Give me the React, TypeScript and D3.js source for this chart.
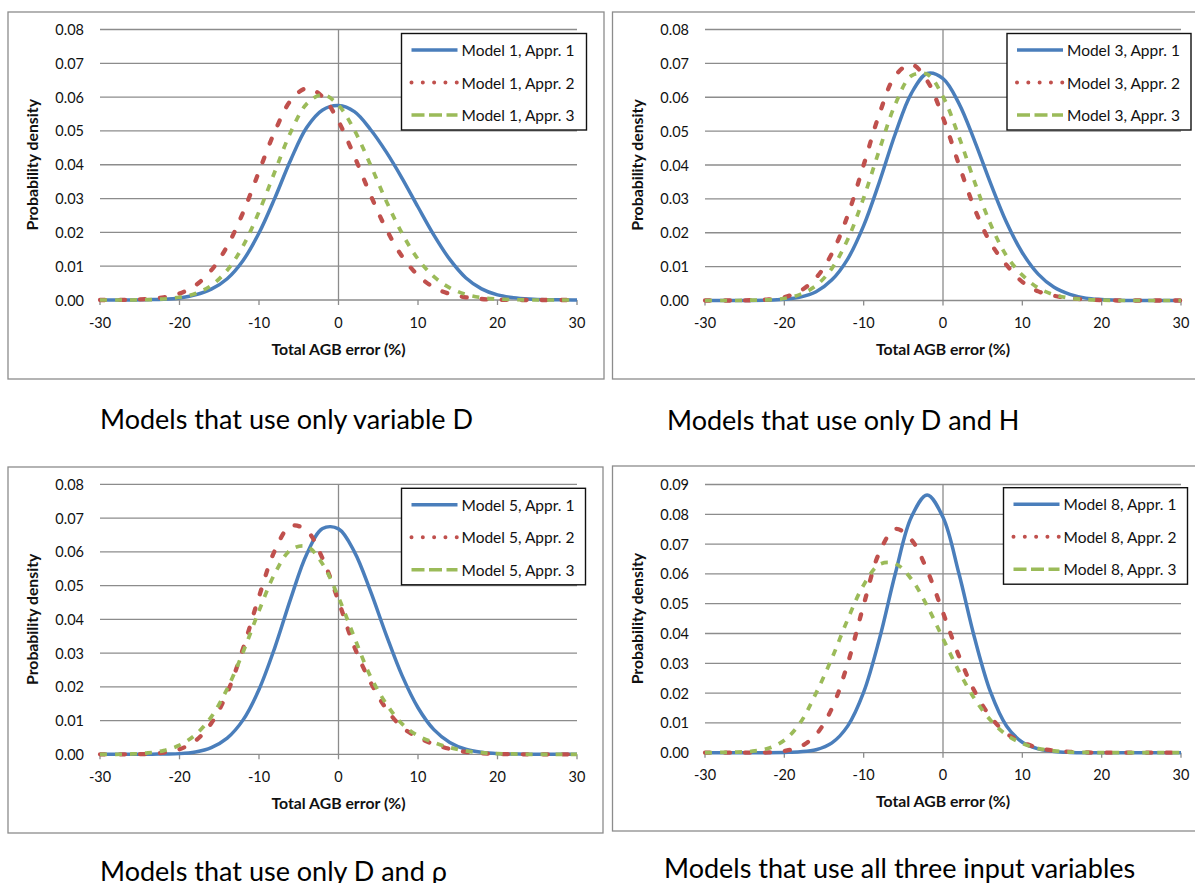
import React from 'react';
import * as d3 from 'd3';

// Total AGB error (%) at which each density is tabulated
const errorPct = [-30, -28, -26, -24, -22, -20, -18, -16, -14, -12, -10, -8, -6, -4, -2, 0, 2, 4, 6, 8, 10, 12, 14, 16, 18, 20, 22, 24, 26, 28, 30];

const xTicks = [-30, -20, -10, 0, 10, 20, 30];
const yTicksTo008 = [0, 0.01, 0.02, 0.03, 0.04, 0.05, 0.06, 0.07, 0.08];
const yTicksTo009 = [0, 0.01, 0.02, 0.03, 0.04, 0.05, 0.06, 0.07, 0.08, 0.09];

const modelNames = ['Model 1', 'Model 3', 'Model 5', 'Model 8'];
const approachNames = ['Appr. 1', 'Appr. 2', 'Appr. 3'];
const captions = [
  'Models that use only variable D',
  'Models that use only D and H',
  'Models that use only D and \u03c1',
  'Models that use all three input variables',
];

// Model 1 (diameter only)
const model1Appr1 = [0, 0, 0, 0.0001, 0.0002, 0.0006, 0.0015, 0.0032, 0.0063, 0.0117, 0.0198, 0.0302, 0.0415, 0.051, 0.0562, 0.0575, 0.0557, 0.0505, 0.0438, 0.036, 0.0275, 0.0192, 0.012, 0.0066, 0.0033, 0.0015, 0.0007, 0.0003, 0.0001, 0.0001, 0];
const model1Appr2 = [0, 0, 0.0001, 0.0003, 0.0008, 0.0019, 0.0043, 0.0088, 0.0159, 0.0259, 0.038, 0.0499, 0.059, 0.0626, 0.0601, 0.0528, 0.0425, 0.0312, 0.021, 0.0129, 0.0073, 0.0037, 0.0018, 0.0008, 0.0003, 0.0001, 0, 0, 0, 0, 0];
const model1Appr3 = [0, 0, 0, 0.0001, 0.0003, 0.0008, 0.0019, 0.0043, 0.0088, 0.016, 0.0261, 0.038, 0.0497, 0.058, 0.0607, 0.0576, 0.0502, 0.0401, 0.0293, 0.0197, 0.0121, 0.0069, 0.0036, 0.0017, 0.0007, 0.0003, 0.0001, 0, 0, 0, 0];

// Model 3 (diameter and height)
const model3Appr1 = [0, 0, 0, 0, 0.0001, 0.0004, 0.001, 0.0026, 0.0061, 0.0123, 0.0221, 0.0351, 0.0493, 0.0611, 0.067, 0.0655, 0.0582, 0.047, 0.0346, 0.0231, 0.0141, 0.0078, 0.0039, 0.0018, 0.0007, 0.0003, 0.0001, 0, 0, 0, 0];
const model3Appr2 = [0, 0, 0, 0.0001, 0.0003, 0.001, 0.0028, 0.0067, 0.0139, 0.0252, 0.04, 0.0552, 0.0664, 0.0697, 0.0649, 0.054, 0.0402, 0.027, 0.017, 0.0105, 0.0055, 0.0027, 0.0014, 0.0007, 0.0003, 0.0001, 0, 0, 0, 0, 0];
const model3Appr3 = [0, 0, 0, 0.0001, 0.0002, 0.0006, 0.0018, 0.0044, 0.0095, 0.0181, 0.0303, 0.0446, 0.058, 0.0663, 0.0668, 0.0602, 0.0484, 0.0349, 0.0225, 0.0132, 0.0075, 0.0037, 0.0017, 0.0007, 0.0003, 0.0001, 0, 0, 0, 0, 0];

// Model 5 (diameter and wood density)
const model5Appr1 = [0, 0, 0, 0, 0.0001, 0.0002, 0.0007, 0.002, 0.0048, 0.0102, 0.0192, 0.0317, 0.0462, 0.0593, 0.0669, 0.0668, 0.06, 0.0485, 0.0354, 0.0233, 0.0138, 0.0073, 0.0035, 0.0015, 0.0006, 0.0002, 0.0001, 0, 0, 0, 0];
const model5Appr2 = [0, 0, 0, 0.0001, 0.0005, 0.0015, 0.004, 0.0092, 0.0182, 0.0314, 0.0467, 0.0604, 0.0677, 0.0663, 0.058, 0.0454, 0.0318, 0.0215, 0.0135, 0.008, 0.005, 0.003, 0.0016, 0.0007, 0.0003, 0.0001, 0, 0, 0, 0, 0];
const model5Appr3 = [0, 0, 0.0001, 0.0004, 0.0011, 0.0027, 0.0058, 0.0111, 0.0194, 0.0303, 0.0425, 0.0536, 0.0606, 0.0616, 0.0564, 0.0465, 0.0346, 0.0232, 0.015, 0.009, 0.0055, 0.0035, 0.002, 0.001, 0.0005, 0.0002, 0.0001, 0, 0, 0, 0];

// Model 8 (all three inputs)
const model8Appr1 = [0, 0, 0, 0, 0, 0.0001, 0.0003, 0.001, 0.0033, 0.009, 0.0203, 0.0383, 0.0602, 0.079, 0.0865, 0.079, 0.0602, 0.0383, 0.0203, 0.009, 0.0035, 0.0013, 0.0004, 0.0001, 0, 0, 0, 0, 0, 0, 0];
const model8Appr2 = [0, 0, 0, 0, 0.0001, 0.0006, 0.002, 0.0061, 0.0149, 0.03, 0.0496, 0.0673, 0.0751, 0.0715, 0.0612, 0.047, 0.0325, 0.0205, 0.012, 0.0065, 0.0035, 0.0016, 0.0007, 0.0003, 0.0001, 0, 0, 0, 0, 0, 0];
const model8Appr3 = [0, 0.0001, 0.0002, 0.0005, 0.0015, 0.0042, 0.01, 0.02, 0.0317, 0.0448, 0.0563, 0.0632, 0.0634, 0.0583, 0.0493, 0.0383, 0.0274, 0.018, 0.0109, 0.006, 0.0031, 0.0014, 0.0006, 0.0002, 0.0001, 0, 0, 0, 0, 0, 0];

const panelSeries = [
  [model1Appr1, model1Appr2, model1Appr3],
  [model3Appr1, model3Appr2, model3Appr3],
  [model5Appr1, model5Appr2, model5Appr3],
  [model8Appr1, model8Appr2, model8Appr3],
];
const panelYTicks = [yTicksTo008, yTicksTo008, yTicksTo008, yTicksTo009];

// Geometry of the four chart blocks on the page
const layout = [
  { frame: { x: 8, y: 12, w: 596, h: 367 }, plot: { left: 100, right: 577, top: 29.5, bottom: 300 }, legend: { x: 401.5, y: 33.5, w: 185, h: 96.5 }, caption: { x: 100, y: 428.5 } },
  { frame: { x: 612.5, y: 12, w: 620, h: 367 }, plot: { left: 705, right: 1181, top: 29.5, bottom: 300.5 }, legend: { x: 1007, y: 33.5, w: 184, h: 96.5 }, caption: { x: 667, y: 429.5 } },
  { frame: { x: 8, y: 467, w: 595, h: 366 }, plot: { left: 100, right: 577, top: 484.3, bottom: 754.3 }, legend: { x: 401.5, y: 488.3, w: 184, h: 96.5 }, caption: { x: 100, y: 881 } },
  { frame: { x: 612.5, y: 466, w: 620, h: 365 }, plot: { left: 705, right: 1181, top: 484.5, bottom: 752.7 }, legend: { x: 1003.5, y: 487.7, w: 184, h: 96.5 }, caption: { x: 664, y: 878 } },
];

const FONT = 'Lato, "Open Sans", "DejaVu Sans", sans-serif';
const GRID = '#8c8c8c';

const curveStyles = [
  { color: '#4A7EBB', width: 3.5, dash: undefined, cap: 'butt' },
  { color: '#C0504D', width: 4.3, dash: '5 15', cap: 'round' },
  { color: '#9BBB59', width: 3.7, dash: '7 8', cap: 'butt' },
];
const legendStyles = [
  { color: '#4A7EBB', width: 3.6, dash: undefined, cap: 'butt' },
  { color: '#C0504D', width: 4, dash: '0.01 11.3', cap: 'round' },
  { color: '#9BBB59', width: 3.6, dash: '13 4.5', cap: 'butt' },
];

function Panel({ index }: { index: number }) {
  const L = layout[index];
  const yTicks = panelYTicks[index];
  const yMax = yTicks[yTicks.length - 1];
  const x = d3.scaleLinear().domain([-30, 30]).range([L.plot.left, L.plot.right]);
  const y = d3.scaleLinear().domain([0, yMax]).range([L.plot.bottom, L.plot.top]);
  const line = d3
    .line<number>()
    .x((_, i) => x(errorPct[i]))
    .y((v) => y(v))
    .curve(d3.curveCatmullRom.alpha(0.5));
  const fmt = d3.format('.2f');
  const midY = (L.plot.top + L.plot.bottom) / 2;

  return (
    <g>
      <rect x={L.frame.x} y={L.frame.y} width={L.frame.w} height={L.frame.h} fill="#fff" stroke={GRID} strokeWidth={1.3} />

      {yTicks.map((t) => (
        <line key={'g' + t} x1={L.plot.left} x2={L.plot.right} y1={y(t)} y2={y(t)} stroke={GRID} strokeWidth={1.3} />
      ))}
      <line x1={x(0)} x2={x(0)} y1={L.plot.top} y2={L.plot.bottom} stroke={GRID} strokeWidth={1.3} />
      {xTicks.map((t) => (
        <line key={'t' + t} x1={x(t)} x2={x(t)} y1={L.plot.bottom} y2={L.plot.bottom + 5} stroke={GRID} strokeWidth={1.3} />
      ))}

      {yTicks.map((t) => (
        <text key={'yl' + t} x={L.plot.left - 16} y={y(t)} textAnchor="end" dominantBaseline="central" fontSize={14.5} fontFamily={FONT} fill="#111">
          {fmt(t)}
        </text>
      ))}
      {xTicks.map((t) => (
        <text key={'xl' + t} x={x(t)} y={L.plot.bottom + 22} textAnchor="middle" dominantBaseline="central" fontSize={14.5} fontFamily={FONT} fill="#111">
          {t}
        </text>
      ))}
      <text x={x(0)} y={L.plot.bottom + 48} textAnchor="middle" dominantBaseline="central" fontSize={15.8} fontWeight="bold" fontFamily={FONT} fill="#111">
        Total AGB error (%)
      </text>
      <text
        transform={`translate(${L.frame.x + 23.5},${midY}) rotate(-90)`}
        textAnchor="middle"
        dominantBaseline="central"
        fontSize={15.8}
        fontWeight="bold"
        fontFamily={FONT}
        fill="#111"
      >
        Probability density
      </text>

      {panelSeries[index].map((values, s) => (
        <path
          key={'c' + s}
          d={line(values) || ''}
          fill="none"
          stroke={curveStyles[s].color}
          strokeWidth={curveStyles[s].width}
          strokeDasharray={curveStyles[s].dash}
          strokeLinecap={curveStyles[s].cap as any}
          strokeLinejoin="round"
        />
      ))}

      <rect x={L.legend.x} y={L.legend.y} width={L.legend.w} height={L.legend.h} fill="#fff" stroke="#111" strokeWidth={1.4} />
      {approachNames.map((a, s) => {
        const rowY = L.legend.y + 16.5 + s * 32.5;
        return (
          <g key={'lg' + s}>
            <line
              x1={L.legend.x + 10}
              x2={L.legend.x + 56}
              y1={rowY}
              y2={rowY}
              stroke={legendStyles[s].color}
              strokeWidth={legendStyles[s].width}
              strokeDasharray={legendStyles[s].dash}
              strokeLinecap={legendStyles[s].cap as any}
            />
            <text x={L.legend.x + 60} y={rowY} dominantBaseline="central" fontSize={15.5} fontFamily={FONT} fill="#111">
              {`${modelNames[index]}, ${a}`}
            </text>
          </g>
        );
      })}

      <text x={L.caption.x} y={L.caption.y} fontSize={27} fontFamily={FONT} fill="#000">
        {captions[index]}
      </text>
    </g>
  );
}

export default function App() {
  return (
    <svg
      width={1195}
      height={883}
      viewBox="0 0 1195 883"
      style={{ position: 'absolute', left: 0, top: 0, background: '#fff' }}
    >
      <rect x={0} y={0} width={1195} height={883} fill="#fff" />
      {layout.map((_, i) => (
        <Panel key={i} index={i} />
      ))}
    </svg>
  );
}
